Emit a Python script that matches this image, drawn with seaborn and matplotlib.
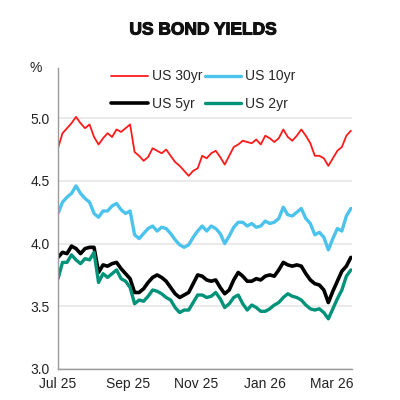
import matplotlib
matplotlib.use('Agg')
import matplotlib.pyplot as plt
import matplotlib.dates as mdates
import matplotlib.patheffects as pe
import seaborn as sns
import pandas as pd

# Data (~4-day spacing)
dates = pd.date_range('2025-07-01', periods=66, freq='4D')

us30 = [4.76, 4.88, 4.92, 4.96, 5.01, 4.96, 4.92, 4.95, 4.85, 4.79,
        4.84, 4.88, 4.85, 4.91, 4.89, 4.92, 4.95, 4.73, 4.70, 4.66,
        4.69, 4.76, 4.74, 4.72, 4.75, 4.70, 4.65, 4.62, 4.58, 4.54,
        4.58, 4.60, 4.70, 4.68, 4.72, 4.74, 4.69, 4.63, 4.70, 4.77,
        4.79, 4.82, 4.81, 4.80, 4.83, 4.79, 4.86, 4.84, 4.81, 4.84,
        4.91, 4.85, 4.82, 4.86, 4.91, 4.86, 4.80, 4.70, 4.70, 4.68,
        4.62, 4.68, 4.74, 4.77, 4.86, 4.90]

us10 = [4.24, 4.33, 4.37, 4.40, 4.46, 4.40, 4.36, 4.33, 4.24, 4.21,
        4.26, 4.26, 4.30, 4.32, 4.27, 4.24, 4.26, 4.07, 4.04, 4.08,
        4.12, 4.14, 4.10, 4.13, 4.12, 4.08, 4.03, 3.99, 3.97, 3.99,
        4.05, 4.10, 4.14, 4.10, 4.14, 4.12, 4.08, 4.00, 4.06, 4.13,
        4.17, 4.17, 4.14, 4.16, 4.13, 4.14, 4.18, 4.16, 4.17, 4.20,
        4.29, 4.23, 4.22, 4.25, 4.28, 4.20, 4.16, 4.07, 4.09, 4.05,
        3.95, 4.04, 4.12, 4.10, 4.22, 4.28]

us5 = [3.89, 3.93, 3.92, 3.98, 3.96, 3.92, 3.96, 3.97, 3.97, 3.77,
       3.83, 3.82, 3.84, 3.85, 3.80, 3.76, 3.72, 3.61, 3.61, 3.64,
       3.69, 3.73, 3.75, 3.73, 3.70, 3.65, 3.60, 3.57, 3.59, 3.61,
       3.68, 3.75, 3.74, 3.71, 3.70, 3.71, 3.65, 3.60, 3.63, 3.71,
       3.77, 3.74, 3.70, 3.70, 3.72, 3.71, 3.74, 3.75, 3.74, 3.79,
       3.85, 3.83, 3.82, 3.83, 3.82, 3.76, 3.71, 3.68, 3.67, 3.63,
       3.53, 3.62, 3.70, 3.78, 3.82, 3.89]

us2 = [3.72, 3.85, 3.85, 3.91, 3.87, 3.84, 3.88, 3.87, 3.93, 3.69,
       3.76, 3.73, 3.76, 3.79, 3.72, 3.70, 3.65, 3.52, 3.55, 3.54,
       3.58, 3.63, 3.62, 3.60, 3.57, 3.55, 3.49, 3.45, 3.47, 3.47,
       3.53, 3.59, 3.59, 3.57, 3.58, 3.61, 3.56, 3.49, 3.52, 3.57,
       3.59, 3.52, 3.47, 3.51, 3.49, 3.46, 3.46, 3.48, 3.51, 3.53,
       3.57, 3.60, 3.58, 3.57, 3.55, 3.51, 3.48, 3.47, 3.48, 3.45,
       3.40, 3.48, 3.56, 3.63, 3.74, 3.79]

series_names = ['US 30yr', 'US 10yr', 'US 5yr', 'US 2yr']
series_colors = ['#FF1A1A', '#4CC3EC', '#000000', '#00937A']
series_widths = [1.3, 2.4, 2.6, 2.4]

df = pd.DataFrame({'Date': dates, 'US 30yr': us30, 'US 10yr': us10,
                   'US 5yr': us5, 'US 2yr': us2})
long_df = df.melt(id_vars='Date', var_name='Series', value_name='Yield')

sns.set_style('white')
plt.rcParams['font.family'] = ['Liberation Sans', 'DejaVu Sans']

fig = plt.figure(figsize=(4, 4), dpi=100)
ax = fig.add_axes([0.145, 0.0775, 0.735, 0.7525])

for name, color, lw in zip(series_names, series_colors, series_widths):
  sub = long_df[long_df['Series'] == name]
  sns.lineplot(data=sub, x='Date', y='Yield', color=color, linewidth=lw,
               label=name, ax=ax)

ax.set_ylim(3.0, 5.4)
ax.set_yticks([3.0, 3.5, 4.0, 4.5, 5.0])
ax.set_yticklabels(['3.0', '3.5', '4.0', '4.5', '5.0'])
ax.set_xlim(pd.Timestamp('2025-07-01'), pd.Timestamp('2026-03-19'))
ax.set_xticks(pd.to_datetime(['2025-07-01', '2025-09-01', '2025-11-01',
                              '2026-01-01', '2026-03-01']))
ax.xaxis.set_major_formatter(mdates.DateFormatter('%b %y'))
ax.tick_params(axis='both', length=0, labelsize=10, colors='#222222', pad=6)
ax.set_xlabel('')
ax.set_ylabel('')

ax.yaxis.grid(True, color='#E6E6E6', linewidth=1.2)
ax.set_axisbelow(True)
for side in ['top', 'right']:
  ax.spines[side].set_visible(False)
for side in ['left', 'bottom']:
  ax.spines[side].set_color('#9A9A9A')
  ax.spines[side].set_linewidth(1.0)

# legend: row 1 = 30yr, 10yr ; row 2 = 5yr, 2yr (matplotlib fills by column)
handles, labels = ax.get_legend_handles_labels()
order = [0, 2, 1, 3]
ax.legend([handles[i] for i in order], [labels[i] for i in order],
          ncol=2, loc='upper center', bbox_to_anchor=(0.495, 1.037),
          frameon=False, fontsize=10, handlelength=2.6,
          handletextpad=0.3, columnspacing=0.2, labelspacing=0.95)

fig.text(0.09, 0.83, '%', fontsize=10, ha='center', va='center', color='#222222')
fig.text(0.507, 0.925, 'US BOND YIELDS', fontsize=12.5, fontweight='bold',
         ha='center', va='center', color='#111111',
         path_effects=[pe.withStroke(linewidth=0.8, foreground='#111111')])

plt.savefig('out.png', dpi=100)
plt.close()
